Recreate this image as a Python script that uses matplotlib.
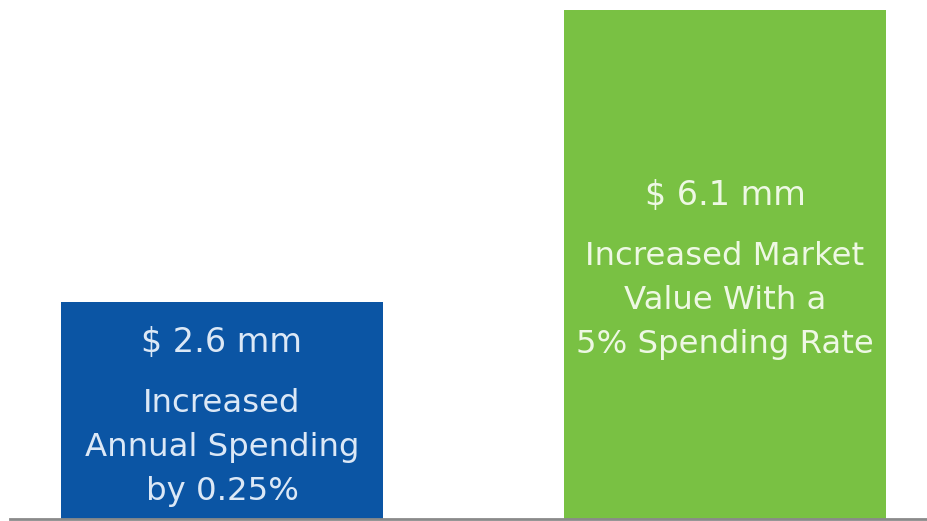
import matplotlib.pyplot as plt

# bar data
values = [2.6, 6.1]
value_labels = ["$ 2.6 mm", "$ 6.1 mm"]
descriptions = ["Increased\nAnnual Spending\nby 0.25%",
                "Increased Market\nValue With a\n5% Spending Rate"]

bar_colors = ["#0B55A4", "#79C143"]
text_colors = ["#DCE8F6", "#EEF8E4"]

fig = plt.figure(figsize=(9.27, 5.21), dpi=100)
ax = fig.add_axes([0, 2 / 521, 1, 519 / 521])

xs = range(len(values))
ax.bar(xs, values, width=0.64, color=bar_colors, zorder=2)

x0, x1 = -222 / 503, 705 / 503
ax.set_xlim(x0, x1)
ax.set_ylim(0, 6.1 * 519 / 509)

# value label and description inside each bar (y in data units)
label_y = [2.12, 3.88]
desc_y = [0.86, 2.62]
for i in xs:
    ax.text(i, label_y[i], value_labels[i], ha="center", va="center",
            fontsize=24, color=text_colors[i], family="DejaVu Sans")
    ax.text(i, desc_y[i], descriptions[i], ha="center", va="center",
            fontsize=23.3, color=text_colors[i], family="DejaVu Sans",
            linespacing=1.55)

for side in ["top", "left", "right"]:
    ax.spines[side].set_visible(False)
ax.spines["bottom"].set_color("#8a8a8a")
ax.spines["bottom"].set_linewidth(2)
ax.spines["bottom"].set_bounds(x0 + 10 / 503, x1)
ax.set_xticks([])
ax.set_yticks([])

fig.savefig("out.png", dpi=100)
